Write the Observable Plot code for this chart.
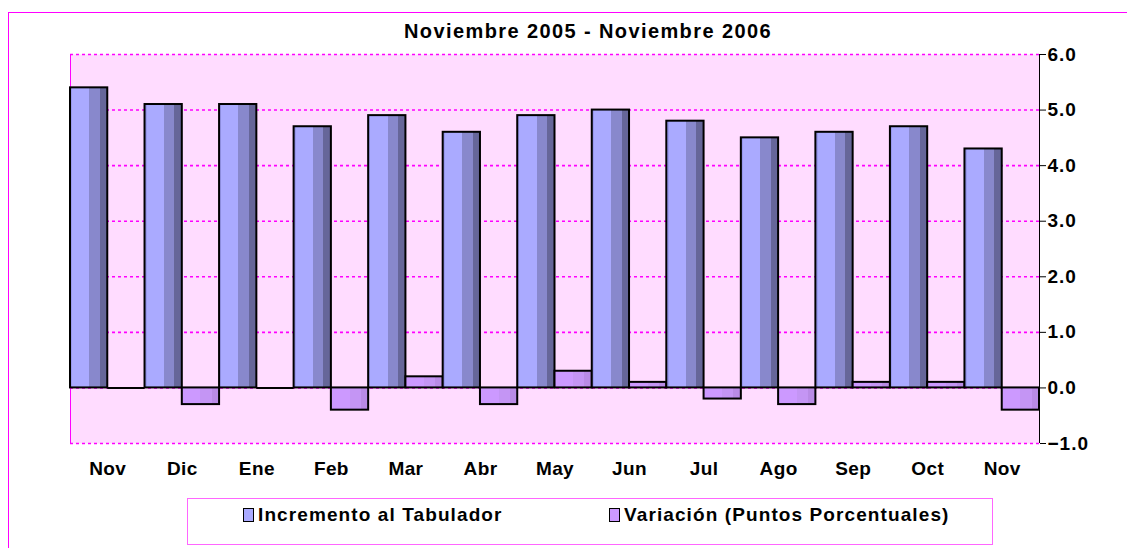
<!DOCTYPE html>
<html>
<head>
<meta charset="utf-8">
<script src="https://cdn.jsdelivr.net/npm/d3@7"></script>
<script src="https://cdn.jsdelivr.net/npm/@observablehq/plot@0.6"></script>
<style>
  html, body { margin: 0; padding: 0; background: #fff; overflow: hidden; }
  #wrap { position: relative; width: 1127px; height: 548px; overflow: hidden; font-family: "Liberation Sans", Arial, sans-serif; font-weight: bold; }
  #outer { position: absolute; left: 8px; top: 12px; width: 1300px; height: 700px; border-left: 1px solid #FF00FF; border-top: 1px solid #FF00FF; }
  #title { position: absolute; left: 388px; top: 19px; width: 400px; text-align: center; font-size: 20px; letter-spacing: 1.4px; color: #000; line-height: 24px; }
  #legend { position: absolute; left: 187px; top: 498px; width: 804px; height: 45px; border: 1px solid #FF66FF; }
  .item { position: absolute; top: 5px; font-size: 19px; letter-spacing: 1.1px; white-space: nowrap; display: flex; align-items: center; line-height: 22px; }
  .sw { width: 9px; height: 12px; border: 1px solid #000; margin-right: 4px; display: inline-block; }
  #chart { position: absolute; left: 0; top: 0; }
  #chart g[aria-label="x-axis tick label"] { letter-spacing: 0.4px; }
</style>
</head>
<body>
<div id="wrap">
  <div id="chart"></div>
  <div id="outer"></div>
  <div id="title">Noviembre 2005 - Noviembre 2006</div>
  <div id="legend">
    <div class="item" style="left:55px"><span class="sw" style="background:#AAAAFF"></span>Incremento al Tabulador</div>
    <div class="item" style="left:421px"><span class="sw" style="background:#CC99FF"></span>Variación (Puntos Porcentuales)</div>
  </div>
</div>
<script>
const months = ["Nov","Dic","Ene","Feb","Mar","Abr","May","Jun","Jul","Ago","Sep","Oct","Nov"];
const incremento = [5.4,5.1,5.1,4.7,4.9,4.6,4.9,5.0,4.8,4.5,4.6,4.7,4.3];
const variacion = [0.0,-0.3,0.0,-0.4,0.2,-0.3,0.3,0.1,-0.2,-0.3,0.1,0.1,-0.4];
const yTicks = [-1,0,1,2,3,4,5,6];

const rows = [];
months.forEach((m, i) => {
  rows.push({i, s: 0, v: incremento[i]});
  rows.push({i, s: 1, v: variacion[i]});
});

function defs() {
  const ns = "http://www.w3.org/2000/svg";
  const d = document.createElementNS(ns, "defs");
  const mk = (id, stops) => {
    const g = document.createElementNS(ns, "linearGradient");
    g.setAttribute("id", id);
    g.setAttribute("x1", "0"); g.setAttribute("x2", "1");
    g.setAttribute("y1", "0"); g.setAttribute("y2", "0");
    stops.forEach(([o, c]) => {
      const s = document.createElementNS(ns, "stop");
      s.setAttribute("offset", o); s.setAttribute("stop-color", c);
      g.appendChild(s);
    });
    d.appendChild(g);
  };
  mk("gBlue", [[0,"#9898EE"],[0.06,"#9898EE"],[0.06,"#AAAAFF"],[0.52,"#AAAAFF"],[0.52,"#8888CC"],[0.8,"#8888CC"],[0.8,"#666699"],[1,"#666699"]]);
  mk("gPurple", [[0,"#CC99FF"],[0.5,"#CC99FF"],[0.5,"#C495F4"],[0.8,"#C495F4"],[0.8,"#B98BE6"],[1,"#B98BE6"]]);
  return d;
}

const plot = Plot.plot({
  width: 1127,
  height: 548,
  marginLeft: 70,
  marginRight: 88,
  marginTop: 54,
  marginBottom: 105,
  style: { fontFamily: "Liberation Sans, Arial, sans-serif", fontWeight: "bold", fontSize: "19px", background: "transparent", color: "#000", letterSpacing: "1px" },
  x: { domain: [0, 13], axis: null },
  y: { domain: [-1, 6], axis: null },
  marks: [
    defs,
    Plot.frame({ fill: "#FFDCFF", stroke: null }),
    Plot.ruleY(yTicks, { stroke: "#FF00FF", strokeWidth: 1.6, strokeDasharray: "3,3" }),
    Plot.ruleX([0], { stroke: "#FF00FF", strokeWidth: 1 }),
    Plot.rect(rows, {
      x1: d => d.i + d.s * 0.5,
      x2: d => d.i + d.s * 0.5 + 0.5,
      y1: 0,
      y2: d => d.v,
      fill: d => d.s === 0 ? "url(#gBlue)" : "url(#gPurple)",
      stroke: "#000",
      strokeWidth: 2
    }),
    Plot.ruleY(rows, {
      filter: d => d.v === 0,
      y: d => d.v,
      x1: d => d.i + d.s * 0.5,
      x2: d => d.i + d.s * 0.5 + 0.5,
      stroke: "#000",
      strokeWidth: 2
    }),
    Plot.ruleX([13], { stroke: "#000", strokeWidth: 1 }),
    Plot.axisY(yTicks, { anchor: "right", tickFormat: d3.format(".1f"), tickSize: 6, tickPadding: 2, fontSize: 19, label: null }),
    Plot.axisX(months.map((m, i) => i + 0.5), { anchor: "bottom", tickFormat: d => months[Math.floor(d)], tickSize: 0, tickPadding: 18, fontSize: 19, label: null })
  ]
});
document.getElementById("chart").appendChild(plot);
</script>
</body>
</html>
